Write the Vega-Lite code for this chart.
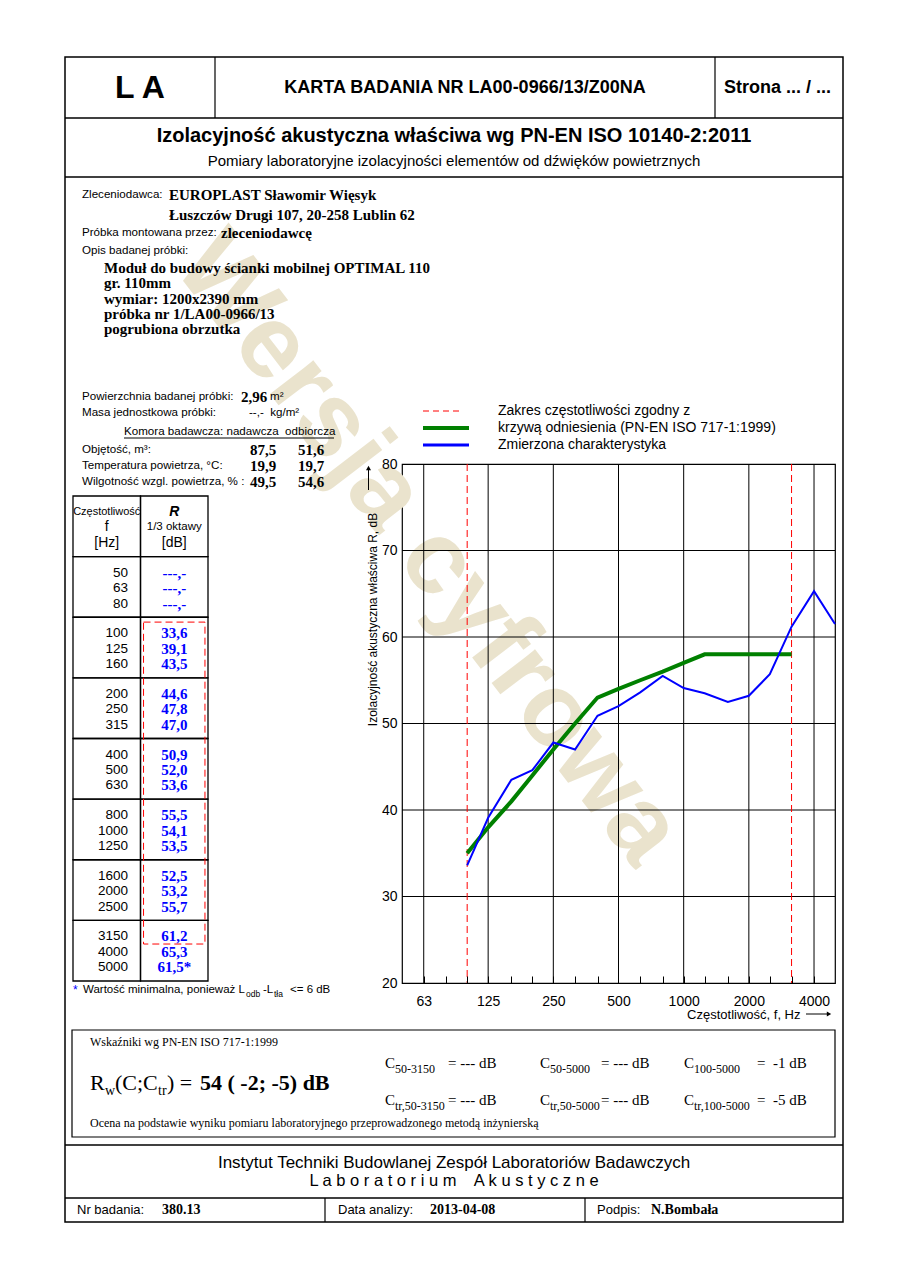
{
"$schema": "https://vega.github.io/schema/vega-lite/v6.json",
"width": 433, "height": 519,
"padding": {"left": 402, "top": 464, "right": 73, "bottom": 303},
"autosize": {"type": "none"},
"background": "white",
"datasets": {
"tab": [
{"f":50,"oct":"63","th":"lo","R":null,"Rt":"---,-"},
{"f":63,"oct":"63","th":"mid","R":null,"Rt":"---,-"},
{"f":80,"oct":"63","th":"hi","R":null,"Rt":"---,-"},
{"f":100,"oct":"125","th":"lo","R":33.6,"Rt":"33,6"},
{"f":125,"oct":"125","th":"mid","R":39.1,"Rt":"39,1"},
{"f":160,"oct":"125","th":"hi","R":43.5,"Rt":"43,5"},
{"f":200,"oct":"250","th":"lo","R":44.6,"Rt":"44,6"},
{"f":250,"oct":"250","th":"mid","R":47.8,"Rt":"47,8"},
{"f":315,"oct":"250","th":"hi","R":47.0,"Rt":"47,0"},
{"f":400,"oct":"500","th":"lo","R":50.9,"Rt":"50,9"},
{"f":500,"oct":"500","th":"mid","R":52.0,"Rt":"52,0"},
{"f":630,"oct":"500","th":"hi","R":53.6,"Rt":"53,6"},
{"f":800,"oct":"1000","th":"lo","R":55.5,"Rt":"55,5"},
{"f":1000,"oct":"1000","th":"mid","R":54.1,"Rt":"54,1"},
{"f":1250,"oct":"1000","th":"hi","R":53.5,"Rt":"53,5"},
{"f":1600,"oct":"2000","th":"lo","R":52.5,"Rt":"52,5"},
{"f":2000,"oct":"2000","th":"mid","R":53.2,"Rt":"53,2"},
{"f":2500,"oct":"2000","th":"hi","R":55.7,"Rt":"55,7"},
{"f":3150,"oct":"4000","th":"lo","R":61.2,"Rt":"61,2"},
{"f":4000,"oct":"4000","th":"mid","R":65.3,"Rt":"65,3"},
{"f":5000,"oct":"4000","th":"hi","R":61.5,"Rt":"61,5*"}
],
"thead": [
{"oct":"hdr","th":"lo","a":"Częstotliwość","b":"R"},
{"oct":"hdr","th":"mid","a":"f","b":"1/3 oktawy"},
{"oct":"hdr","th":"hi","a":"[Hz]","b":"[dB]"}
],
"ref": [
{"f":100,"R":35},{"f":125,"R":38},{"f":160,"R":41},{"f":200,"R":44},{"f":250,"R":47},{"f":315,"R":50},{"f":400,"R":53},{"f":500,"R":54},{"f":630,"R":55},{"f":800,"R":56},{"f":1000,"R":57},{"f":1250,"R":58},{"f":1600,"R":58},{"f":2000,"R":58},{"f":2500,"R":58},{"f":3150,"R":58}
],
"gx": [{"f":63},{"f":125},{"f":250},{"f":500},{"f":1000},{"f":2000},{"f":4000}],
"gy": [{"R":30},{"R":40},{"R":50},{"R":60},{"R":70}],
"rng": [{"f":100},{"f":3150}]
},
"layer": [
{"data":{"values":[{}]},
 "mark":{"type":"text","text":"Wersja cyfrowa","font":"Liberation Sans","fontWeight":"bold","fontSize":104,"angle":52.5,"color":"#EAE3CD","align":"center","baseline":"middle"},
 "encoding":{"x":{"datum":428,"type":"quantitative","scale":{"domain":[0,908],"range":[-402,506],"nice":false,"zero":false},"axis":null},
             "y":{"datum":549,"type":"quantitative","scale":{"domain":[0,1286],"range":[-464,822],"nice":false,"zero":false},"axis":null}}},
{"layer":[
 {"data":{"name":"gx"},"mark":{"type":"rule","color":"black","strokeWidth":1},
  "encoding":{"x":{"field":"f","type":"quantitative","scale":{"type":"log","domain":[50,5000],"nice":false},
   "axis":{"orient":"bottom","values":[63,80,100,125,160,200,250,315,400,500,630,800,1000,1250,1600,2000,2500,3150,4000],
     "labelExpr":"indexof([63,125,250,500,1000,2000,4000], datum.value) >= 0 ? datum.value + '' : ''",
     "grid":false,"domain":false,"ticks":true,"tickSize":-7,"tickColor":"black","tickWidth":1,
     "labelFont":"Liberation Sans","labelFontSize":14,"labelColor":"black","labelPadding":18,"labelOverlap":false,"labelFlush":false,
     "title":"Częstotliwość, f, Hz","titleFont":"Liberation Sans","titleFontSize":13,"titleFontWeight":"normal","titleColor":"black",
     "titleX":398,"titleY":31,"titleAlign":"right","titleBaseline":"middle","titleAngle":0,"zindex":1}}}},
 {"data":{"name":"gy"},"mark":{"type":"rule","color":"black","strokeWidth":1},
  "encoding":{"y":{"field":"R","type":"quantitative","scale":{"domain":[20,80],"nice":false,"zero":false},
   "axis":{"orient":"left","values":[20,30,40,50,60,70,80],"grid":false,"domain":false,"ticks":false,
     "labelFont":"Liberation Sans","labelFontSize":14,"labelColor":"black","labelPadding":5,"labelOverlap":false,"labelFlush":false,
     "title":"Izolacyjność akustyczna właściwa R, dB","titleFont":"Liberation Sans","titleFontSize":12,"titleFontWeight":"normal","titleColor":"black",
     "titleX":-29.5,"titleY":155,"titleAlign":"center","titleBaseline":"middle","titleAngle":270,"zindex":1}}}},
 {"data":{"name":"rng"},"mark":{"type":"rule","color":"#FF0000","strokeWidth":1,"strokeDash":[7,4]},
  "encoding":{"x":{"field":"f","type":"quantitative"}}},
 {"data":{"name":"ref"},"mark":{"type":"line","color":"#008000","strokeWidth":4},
  "encoding":{"x":{"field":"f","type":"quantitative"},"y":{"field":"R","type":"quantitative"}}},
 {"data":{"name":"tab"},"mark":{"type":"line","color":"#0000FF","strokeWidth":2},
  "encoding":{"x":{"field":"f","type":"quantitative"},"y":{"field":"R","type":"quantitative"}}}
]},
{"layer":[
 {"data":{"name":"tab"},"transform":[{"filter":"datum.th == 'lo'"}],
  "mark":{"type":"rect","filled":false,"stroke":"black","strokeWidth":1.3},
  "encoding":{"x":{"datum":"f","type":"nominal","scale":{"type":"band","domain":["f","R"],"range":[-329,-194],"paddingInner":0,"paddingOuter":0},"axis":null},
   "y":{"field":"oct","type":"nominal","scale":{"type":"band","domain":["hdr","63","125","250","500","1000","2000","4000"],"range":[32,517],"paddingInner":0,"paddingOuter":0},"axis":null}}},
 {"data":{"name":"tab"},"transform":[{"filter":"datum.th == 'lo'"}],
  "mark":{"type":"rect","filled":false,"stroke":"black","strokeWidth":1.3},
  "encoding":{"x":{"datum":"R","type":"nominal","axis":null},"y":{"field":"oct","type":"nominal","axis":null}}},
 {"data":{"name":"thead"},"transform":[{"filter":"datum.th == 'lo'"}],
  "mark":{"type":"rect","filled":false,"stroke":"black","strokeWidth":1.3},
  "encoding":{"x":{"datum":"f","type":"nominal","axis":null},"y":{"field":"oct","type":"nominal","axis":null}}},
 {"data":{"name":"thead"},"transform":[{"filter":"datum.th == 'lo'"}],
  "mark":{"type":"rect","filled":false,"stroke":"black","strokeWidth":1.3},
  "encoding":{"x":{"datum":"R","type":"nominal","axis":null},"y":{"field":"oct","type":"nominal","axis":null}}},
 {"data":{"values":[{}]},
  "mark":{"type":"rect","filled":false,"stroke":"#FF0000","strokeWidth":1,"strokeDash":[7,4]},
  "encoding":{"x":{"datum":"R","type":"nominal","bandPosition":0.045,"axis":null},"x2":{"datum":"R","bandPosition":0.955},
   "y":{"datum":"125","type":"nominal","bandPosition":0.08,"axis":null},"y2":{"datum":"4000","bandPosition":0.39}}},
 {"data":{"name":"tab"},
  "mark":{"type":"text","align":"right","fontSize":13.5},
  "encoding":{"x":{"datum":"f","type":"nominal","bandPosition":0.815,"axis":null},"y":{"field":"oct","type":"nominal","axis":null},
   "yOffset":{"field":"th","type":"nominal","scale":{"type":"band","domain":["lo","mid","hi"],"paddingInner":0,"paddingOuter":0.456,"align":0.584}},
   "text":{"field":"f","type":"nominal"}}},
 {"data":{"name":"tab"},
  "mark":{"type":"text","align":"center","font":"Liberation Serif","fontWeight":"bold","fontSize":15,"color":"#0000FF"},
  "encoding":{"x":{"datum":"R","type":"nominal","axis":null},"y":{"field":"oct","type":"nominal","axis":null},
   "yOffset":{"field":"th","type":"nominal"},"text":{"field":"Rt","type":"nominal"}}},
 {"data":{"name":"thead"},"transform":[{"filter":"datum.th == 'lo'"}],
  "mark":{"type":"text","align":"center","fontSize":11},
  "encoding":{"x":{"datum":"f","type":"nominal","axis":null},"y":{"field":"oct","type":"nominal","axis":null},
   "yOffset":{"field":"th","type":"nominal"},"text":{"field":"a","type":"nominal"}}},
 {"data":{"name":"thead"},"transform":[{"filter":"datum.th != 'lo'"}],
  "mark":{"type":"text","align":"center","fontSize":14},
  "encoding":{"x":{"datum":"f","type":"nominal","axis":null},"y":{"field":"oct","type":"nominal","axis":null},
   "yOffset":{"field":"th","type":"nominal"},"text":{"field":"a","type":"nominal"}}},
 {"data":{"name":"thead"},"transform":[{"filter":"datum.th == 'lo'"}],
  "mark":{"type":"text","align":"center","fontSize":14,"fontWeight":"bold","fontStyle":"italic"},
  "encoding":{"x":{"datum":"R","type":"nominal","axis":null},"y":{"field":"oct","type":"nominal","axis":null},
   "yOffset":{"field":"th","type":"nominal"},"text":{"field":"b","type":"nominal"}}},
 {"data":{"name":"thead"},"transform":[{"filter":"datum.th == 'mid'"}],
  "mark":{"type":"text","align":"center","fontSize":11.5},
  "encoding":{"x":{"datum":"R","type":"nominal","axis":null},"y":{"field":"oct","type":"nominal","axis":null},
   "yOffset":{"field":"th","type":"nominal"},"text":{"field":"b","type":"nominal"}}},
 {"data":{"name":"thead"},"transform":[{"filter":"datum.th == 'hi'"}],
  "mark":{"type":"text","align":"center","fontSize":14},
  "encoding":{"x":{"datum":"R","type":"nominal","axis":null},"y":{"field":"oct","type":"nominal","axis":null},
   "yOffset":{"field":"th","type":"nominal"},"text":{"field":"b","type":"nominal"}}}
]},
{"data":{"values":[{}]},"layer":[
 {"mark":{"type":"rect","filled":false,"stroke":"black","strokeWidth":1.5},
  "encoding":{"x":{"datum":65,"type":"quantitative","scale":{"domain":[0,908],"range":[-402,506],"nice":false,"zero":false},"axis":null},"x2":{"datum":843},
   "y":{"datum":57,"type":"quantitative","scale":{"domain":[0,1286],"range":[-464,822],"nice":false,"zero":false},"axis":null},"y2":{"datum":1222}}},
 {"mark":{"type":"rule","strokeWidth":1.5},"encoding":{"x":{"datum":65,"axis":null},"x2":{"datum":843},"y":{"datum":118,"axis":null}}},
 {"mark":{"type":"rule","strokeWidth":1.5},"encoding":{"x":{"datum":65,"axis":null},"x2":{"datum":843},"y":{"datum":177,"axis":null}}},
 {"mark":{"type":"rule","strokeWidth":1.5},"encoding":{"x":{"datum":65,"axis":null},"x2":{"datum":843},"y":{"datum":1145,"axis":null}}},
 {"mark":{"type":"rule","strokeWidth":1.5},"encoding":{"x":{"datum":65,"axis":null},"x2":{"datum":843},"y":{"datum":1198,"axis":null}}},
 {"mark":{"type":"rule","strokeWidth":1.2},"encoding":{"x":{"datum":215,"axis":null},"y":{"datum":57,"axis":null},"y2":{"datum":118}}},
 {"mark":{"type":"rule","strokeWidth":1.2},"encoding":{"x":{"datum":715,"axis":null},"y":{"datum":57,"axis":null},"y2":{"datum":118}}},
 {"mark":{"type":"rule","strokeWidth":1.2},"encoding":{"x":{"datum":325,"axis":null},"y":{"datum":1198,"axis":null},"y2":{"datum":1222}}},
 {"mark":{"type":"rule","strokeWidth":1.2},"encoding":{"x":{"datum":585,"axis":null},"y":{"datum":1198,"axis":null},"y2":{"datum":1222}}},
 {"mark":{"type":"rect","filled":false,"stroke":"black","strokeWidth":1.2},"encoding":{"x":{"datum":72,"axis":null},"x2":{"datum":835},"y":{"datum":1030,"axis":null},"y2":{"datum":1137}}},
 {"mark":{"type":"rule","strokeWidth":1},"encoding":{"x":{"datum":124,"axis":null},"x2":{"datum":334},"y":{"datum":438,"axis":null}}},
 {"mark":{"type":"rule","strokeWidth":1,"color":"#FF0000","strokeDash":[6,4]},"encoding":{"x":{"datum":423,"axis":null},"x2":{"datum":463},"y":{"datum":411,"axis":null}}},
 {"mark":{"type":"rule","strokeWidth":4,"color":"#008000"},"encoding":{"x":{"datum":423,"axis":null},"x2":{"datum":469},"y":{"datum":428,"axis":null}}},
 {"mark":{"type":"rule","strokeWidth":3,"color":"#0000FF"},"encoding":{"x":{"datum":423,"axis":null},"x2":{"datum":469},"y":{"datum":445,"axis":null}}},
 {"mark":{"type":"rule","strokeWidth":1},"encoding":{"x":{"datum":368.5,"axis":null},"y":{"datum":470,"axis":null},"y2":{"datum":490}}},
 {"mark":{"type":"point","shape":"triangle-up","filled":true,"color":"black","size":25,"opacity":1},"encoding":{"x":{"datum":368.5,"axis":null},"y":{"datum":468,"axis":null}}},
 {"mark":{"type":"rule","strokeWidth":1},"encoding":{"x":{"datum":806,"axis":null},"x2":{"datum":827},"y":{"datum":1014,"axis":null}}},
 {"mark":{"type":"point","shape":"triangle-right","filled":true,"color":"black","size":25,"opacity":1},"encoding":{"x":{"datum":829,"axis":null},"y":{"datum":1014,"axis":null}}},

 {"mark":{"type":"text","text":"L A","fontSize":32,"fontWeight":"bold","align":"center"},"encoding":{"x":{"datum":140,"axis":null},"y":{"datum":88,"axis":null}}},
 {"mark":{"type":"text","text":"KARTA BADANIA NR LA00-0966/13/Z00NA","fontSize":18,"fontWeight":"bold","align":"center"},"encoding":{"x":{"datum":465,"axis":null},"y":{"datum":88,"axis":null}}},
 {"mark":{"type":"text","text":"Strona ... / ...","fontSize":18,"fontWeight":"bold"},"encoding":{"x":{"datum":724,"axis":null},"y":{"datum":88,"axis":null}}},
 {"mark":{"type":"text","text":"Izolacyjność akustyczna właściwa wg PN-EN ISO 10140-2:2011","fontSize":20,"fontWeight":"bold","align":"center"},"encoding":{"x":{"datum":454,"axis":null},"y":{"datum":136,"axis":null}}},
 {"mark":{"type":"text","text":"Pomiary laboratoryjne izolacyjności elementów od dźwięków powietrznych","fontSize":15,"align":"center"},"encoding":{"x":{"datum":454,"axis":null},"y":{"datum":161,"axis":null}}},

 {"mark":{"type":"text","text":"Zleceniodawca:","fontSize":11.6},"encoding":{"x":{"datum":82,"axis":null},"y":{"datum":195,"axis":null}}},
 {"mark":{"type":"text","text":"Próbka montowana przez:\nOpis badanej próbki:","lineBreak":"\n","lineHeight":18,"fontSize":11.6},"encoding":{"x":{"datum":82,"axis":null},"y":{"datum":233,"axis":null}}},
 {"mark":{"type":"text","text":"EUROPLAST Sławomir Więsyk\nŁuszczów Drugi 107, 20-258 Lublin 62","lineBreak":"\n","lineHeight":20,"font":"Liberation Serif","fontWeight":"bold","fontSize":15},"encoding":{"x":{"datum":169,"axis":null},"y":{"datum":195,"axis":null}}},
 {"mark":{"type":"text","text":"zleceniodawcę","font":"Liberation Serif","fontWeight":"bold","fontSize":15},"encoding":{"x":{"datum":221,"axis":null},"y":{"datum":233,"axis":null}}},
 {"mark":{"type":"text","text":"Moduł do budowy ścianki mobilnej OPTIMAL 110\ngr. 110mm\nwymiar: 1200x2390 mm\npróbka nr 1/LA00-0966/13\npogrubiona obrzutka","lineBreak":"\n","lineHeight":15.25,"font":"Liberation Serif","fontWeight":"bold","fontSize":15},"encoding":{"x":{"datum":104,"axis":null},"y":{"datum":268,"axis":null}}},

 {"mark":{"type":"text","text":"Powierzchnia badanej próbki:\nMasa jednostkowa próbki:","lineBreak":"\n","lineHeight":16,"fontSize":11.6},"encoding":{"x":{"datum":82,"axis":null},"y":{"datum":397,"axis":null}}},
 {"mark":{"type":"text","text":"2,96","font":"Liberation Serif","fontWeight":"bold","fontSize":15},"encoding":{"x":{"datum":241,"axis":null},"y":{"datum":397,"axis":null}}},
 {"mark":{"type":"text","text":"m²","fontSize":11.6},"encoding":{"x":{"datum":270,"axis":null},"y":{"datum":397,"axis":null}}},
 {"mark":{"type":"text","text":"--,-\u00a0\u00a0kg/m²","fontSize":11.6},"encoding":{"x":{"datum":249,"axis":null},"y":{"datum":413,"axis":null}}},
 {"mark":{"type":"text","text":"Komora badawcza: nadawcza\u00a0\u00a0odbiorcza","fontSize":11.6},"encoding":{"x":{"datum":124,"axis":null},"y":{"datum":432,"axis":null}}},
 {"mark":{"type":"text","text":"Objętość, m³:\nTemperatura powietrza, °C:\nWilgotność wzgl. powietrza, % :","lineBreak":"\n","lineHeight":16,"fontSize":11.6},"encoding":{"x":{"datum":82,"axis":null},"y":{"datum":450,"axis":null}}},
 {"mark":{"type":"text","text":"87,5\n19,9\n49,5","lineBreak":"\n","lineHeight":16,"font":"Liberation Serif","fontWeight":"bold","fontSize":15},"encoding":{"x":{"datum":250,"axis":null},"y":{"datum":450,"axis":null}}},
 {"mark":{"type":"text","text":"51,6\n19,7\n54,6","lineBreak":"\n","lineHeight":16,"font":"Liberation Serif","fontWeight":"bold","fontSize":15},"encoding":{"x":{"datum":298,"axis":null},"y":{"datum":450,"axis":null}}},

 {"mark":{"type":"text","text":"*","fontSize":12,"color":"#0000FF"},"encoding":{"x":{"datum":73,"axis":null},"y":{"datum":990,"axis":null}}},
 {"mark":{"type":"text","text":"Wartość minimalna, ponieważ L","fontSize":11.5},"encoding":{"x":{"datum":83,"axis":null},"y":{"datum":990,"axis":null}}},
 {"mark":{"type":"text","text":"odb","fontSize":8.5},"encoding":{"x":{"datum":246,"axis":null},"y":{"datum":994,"axis":null}}},
 {"mark":{"type":"text","text":"-L","fontSize":11.5},"encoding":{"x":{"datum":263,"axis":null},"y":{"datum":990,"axis":null}}},
 {"mark":{"type":"text","text":"tła","fontSize":8.5},"encoding":{"x":{"datum":274,"axis":null},"y":{"datum":994,"axis":null}}},
 {"mark":{"type":"text","text":"<= 6 dB","fontSize":11.5},"encoding":{"x":{"datum":290,"axis":null},"y":{"datum":990,"axis":null}}},

 {"mark":{"type":"text","text":"Zakres częstotliwości zgodny z\nkrzywą odniesienia (PN-EN ISO 717-1:1999)\nZmierzona charakterystyka","lineBreak":"\n","lineHeight":17,"fontSize":14},"encoding":{"x":{"datum":498,"axis":null},"y":{"datum":411,"axis":null}}},

 {"mark":{"type":"text","text":"Wskaźniki wg PN-EN ISO 717-1:1999","font":"Liberation Serif","fontSize":12},"encoding":{"x":{"datum":90,"axis":null},"y":{"datum":1042,"axis":null}}},
 {"mark":{"type":"text","text":"R","font":"Liberation Serif","fontSize":22},"encoding":{"x":{"datum":90,"axis":null},"y":{"datum":1083,"axis":null}}},
 {"mark":{"type":"text","text":"w","font":"Liberation Serif","fontSize":14},"encoding":{"x":{"datum":105,"axis":null},"y":{"datum":1091,"axis":null}}},
 {"mark":{"type":"text","text":"(C;C","font":"Liberation Serif","fontSize":22},"encoding":{"x":{"datum":115,"axis":null},"y":{"datum":1083,"axis":null}}},
 {"mark":{"type":"text","text":"tr","font":"Liberation Serif","fontSize":14},"encoding":{"x":{"datum":158,"axis":null},"y":{"datum":1091,"axis":null}}},
 {"mark":{"type":"text","text":") =","font":"Liberation Serif","fontSize":22},"encoding":{"x":{"datum":167,"axis":null},"y":{"datum":1083,"axis":null}}},
 {"mark":{"type":"text","text":"54 ( -2; -5) dB","font":"Liberation Serif","fontWeight":"bold","fontSize":22},"encoding":{"x":{"datum":200,"axis":null},"y":{"datum":1083,"axis":null}}},
 {"mark":{"type":"text","text":"C\nC","lineBreak":"\n","lineHeight":37,"font":"Liberation Serif","fontSize":15},"encoding":{"x":{"datum":385,"axis":null},"y":{"datum":1063,"axis":null}}},
 {"mark":{"type":"text","text":"50-3150\ntr,50-3150","lineBreak":"\n","lineHeight":37,"font":"Liberation Serif","fontSize":12},"encoding":{"x":{"datum":395,"axis":null},"y":{"datum":1069,"axis":null}}},
 {"mark":{"type":"text","text":"= --- dB\n= --- dB","lineBreak":"\n","lineHeight":37,"font":"Liberation Serif","fontSize":15},"encoding":{"x":{"datum":448,"axis":null},"y":{"datum":1063,"axis":null}}},
 {"mark":{"type":"text","text":"C\nC","lineBreak":"\n","lineHeight":37,"font":"Liberation Serif","fontSize":15},"encoding":{"x":{"datum":540,"axis":null},"y":{"datum":1063,"axis":null}}},
 {"mark":{"type":"text","text":"50-5000\ntr,50-5000","lineBreak":"\n","lineHeight":37,"font":"Liberation Serif","fontSize":12},"encoding":{"x":{"datum":550,"axis":null},"y":{"datum":1069,"axis":null}}},
 {"mark":{"type":"text","text":"= --- dB\n= --- dB","lineBreak":"\n","lineHeight":37,"font":"Liberation Serif","fontSize":15},"encoding":{"x":{"datum":601,"axis":null},"y":{"datum":1063,"axis":null}}},
 {"mark":{"type":"text","text":"C\nC","lineBreak":"\n","lineHeight":37,"font":"Liberation Serif","fontSize":15},"encoding":{"x":{"datum":684,"axis":null},"y":{"datum":1063,"axis":null}}},
 {"mark":{"type":"text","text":"100-5000\ntr,100-5000","lineBreak":"\n","lineHeight":37,"font":"Liberation Serif","fontSize":12},"encoding":{"x":{"datum":694,"axis":null},"y":{"datum":1069,"axis":null}}},
 {"mark":{"type":"text","text":"=\u00a0\u00a0-1 dB\n=\u00a0\u00a0-5 dB","lineBreak":"\n","lineHeight":37,"font":"Liberation Serif","fontSize":15},"encoding":{"x":{"datum":757,"axis":null},"y":{"datum":1063,"axis":null}}},
 {"mark":{"type":"text","text":"Ocena na podstawie wyniku pomiaru laboratoryjnego przeprowadzonego metodą inżynierską","font":"Liberation Serif","fontSize":12},"encoding":{"x":{"datum":90,"axis":null},"y":{"datum":1123,"axis":null}}},

 {"mark":{"type":"text","text":"Instytut Techniki Budowlanej Zespół Laboratoriów Badawczych","fontSize":17,"align":"center"},"encoding":{"x":{"datum":454,"axis":null},"y":{"datum":1163,"axis":null}}},
 {"mark":{"type":"text","text":"L a b o r a t o r i u m\u00a0\u00a0\u00a0 A k u s t y c z n e","fontSize":16.5,"align":"center"},"encoding":{"x":{"datum":454,"axis":null},"y":{"datum":1181,"axis":null}}},
 {"mark":{"type":"text","text":"Nr badania:","fontSize":13},"encoding":{"x":{"datum":77,"axis":null},"y":{"datum":1210,"axis":null}}},
 {"mark":{"type":"text","text":"380.13","font":"Liberation Serif","fontWeight":"bold","fontSize":14},"encoding":{"x":{"datum":162,"axis":null},"y":{"datum":1210,"axis":null}}},
 {"mark":{"type":"text","text":"Data analizy:","fontSize":13},"encoding":{"x":{"datum":338,"axis":null},"y":{"datum":1210,"axis":null}}},
 {"mark":{"type":"text","text":"2013-04-08","font":"Liberation Serif","fontWeight":"bold","fontSize":14},"encoding":{"x":{"datum":430,"axis":null},"y":{"datum":1210,"axis":null}}},
 {"mark":{"type":"text","text":"Podpis:","fontSize":13},"encoding":{"x":{"datum":597,"axis":null},"y":{"datum":1210,"axis":null}}},
 {"mark":{"type":"text","text":"N.Bombała","font":"Liberation Serif","fontWeight":"bold","fontSize":14},"encoding":{"x":{"datum":651,"axis":null},"y":{"datum":1210,"axis":null}}}
]}
],
"resolve": {"scale": {"x": "independent", "y": "independent"}},
"config": {
 "view": {"stroke": "black", "strokeWidth": 1.2},
 "text": {"font": "Liberation Sans", "fontSize": 14, "baseline": "middle", "align": "left", "color": "black"},
 "rule": {"color": "black"}
}
}
